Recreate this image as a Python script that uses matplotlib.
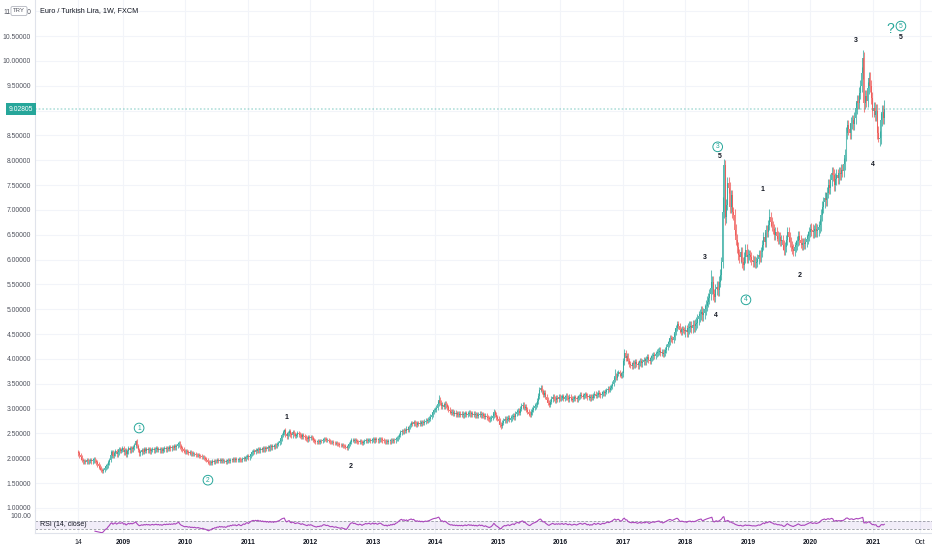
import datetime as dt
import numpy as np
import pandas as pd
import matplotlib
matplotlib.use("Agg")
import matplotlib.pyplot as plt
from matplotlib.transforms import blended_transform_factory

# ---------------- data: weekly closes, EUR/TRY ----------------
closes_2008 = [2.10, 2.06, 2.02, 1.97, 1.94, 1.95, 1.93, 1.96, 1.94, 1.95,
               1.97, 1.94, 1.96, 1.98, 1.95, 1.92, 1.88, 1.84, 1.80, 1.77,
               1.75, 1.77, 1.81, 1.84, 1.86, 1.92, 1.97, 2.06, 2.12, 2.05,
               2.10, 2.15, 2.08, 2.12, 2.18, 2.15, 2.17, 2.20]
closes_2009 = [2.12, 2.16, 2.08, 2.14, 2.20, 2.16, 2.21, 2.18, 2.22, 2.26,
               2.34, 2.25, 2.17, 2.10, 2.12, 2.16, 2.13, 2.18, 2.15, 2.19,
               2.16, 2.18, 2.14, 2.17, 2.19, 2.16, 2.18, 2.20, 2.17, 2.19,
               2.16, 2.18, 2.15, 2.18, 2.20, 2.18, 2.21, 2.19, 2.22, 2.20,
               2.22, 2.21, 2.24, 2.22, 2.25, 2.28, 2.30, 2.24, 2.20, 2.18,
               2.15, 2.13]
closes_2010 = [2.14, 2.13, 2.11, 2.12, 2.09, 2.10, 2.08, 2.09, 2.07, 2.06,
               2.07, 2.05, 2.04, 2.02, 2.03, 2.00, 1.99, 1.96, 1.93, 1.90,
               1.92, 1.91, 1.94, 1.93, 1.95, 1.94, 1.96, 1.95, 1.97, 1.95,
               1.96, 1.94, 1.95, 1.93, 1.94, 1.96, 1.95, 1.97, 1.96, 1.98,
               1.97, 1.98, 1.96, 1.97, 1.99, 1.97, 1.96, 1.98, 2.00, 1.99,
               2.02, 2.04]
closes_2011 = [2.02, 2.05, 2.09, 2.12, 2.14, 2.13, 2.16, 2.15, 2.18, 2.16,
               2.19, 2.17, 2.20, 2.18, 2.21, 2.19, 2.22, 2.20, 2.24, 2.22,
               2.25, 2.23, 2.27, 2.26, 2.29, 2.31, 2.34, 2.40, 2.47, 2.52,
               2.56, 2.48, 2.44, 2.50, 2.55, 2.48, 2.46, 2.52, 2.49, 2.45,
               2.47, 2.50, 2.48, 2.46, 2.43, 2.47, 2.44, 2.42, 2.40, 2.38,
               2.42, 2.40]
closes_2012 = [2.42, 2.40, 2.37, 2.35, 2.33, 2.32, 2.34, 2.33, 2.35, 2.34,
               2.37, 2.39, 2.38, 2.36, 2.37, 2.35, 2.33, 2.32, 2.33, 2.31,
               2.30, 2.31, 2.29, 2.28, 2.27, 2.26, 2.27, 2.25, 2.24, 2.22,
               2.21, 2.24, 2.28, 2.33, 2.36, 2.37, 2.35, 2.36, 2.34, 2.33,
               2.32, 2.34, 2.33, 2.31, 2.33, 2.34, 2.36, 2.35, 2.36, 2.37,
               2.35, 2.36, 2.38]
closes_2013 = [2.36, 2.38, 2.37, 2.36, 2.38, 2.39, 2.38, 2.36, 2.35, 2.34,
               2.35, 2.33, 2.35, 2.34, 2.36, 2.35, 2.37, 2.36, 2.39, 2.40,
               2.43, 2.47, 2.52, 2.55, 2.53, 2.57, 2.55, 2.60, 2.58, 2.63,
               2.67, 2.71, 2.69, 2.73, 2.70, 2.68, 2.71, 2.69, 2.72, 2.70,
               2.73, 2.71, 2.74, 2.76, 2.75, 2.78, 2.80, 2.84, 2.88, 2.93,
               2.97, 2.99]
closes_2014 = [3.02, 3.10, 3.18, 3.12, 3.05, 3.08, 3.04, 3.10, 3.07, 3.03,
               2.98, 2.95, 2.92, 2.94, 2.90, 2.92, 2.89, 2.91, 2.88, 2.90,
               2.88, 2.90, 2.87, 2.89, 2.91, 2.88, 2.90, 2.92, 2.89, 2.91,
               2.88, 2.90, 2.87, 2.89, 2.86, 2.88, 2.90, 2.87, 2.89, 2.86,
               2.84, 2.86, 2.83, 2.81, 2.79, 2.80, 2.82, 2.86, 2.93, 2.88,
               2.83, 2.80]
closes_2015 = [2.75, 2.68, 2.66, 2.72, 2.76, 2.79, 2.77, 2.80, 2.82, 2.78,
               2.81, 2.84, 2.86, 2.83, 2.90, 2.93, 2.95, 2.92, 3.00, 3.05,
               3.08, 3.02, 3.04, 2.98, 2.94, 2.90, 2.88, 2.93, 2.98, 3.02,
               3.05, 3.08, 3.15, 3.25, 3.38, 3.42, 3.35, 3.28, 3.32, 3.24,
               3.18, 3.12, 3.08, 3.14, 3.19, 3.24, 3.20, 3.17, 3.22, 3.19,
               3.23, 3.20]
closes_2016 = [3.22, 3.25, 3.20, 3.23, 3.26, 3.22, 3.19, 3.24, 3.21, 3.18,
               3.20, 3.23, 3.21, 3.19, 3.22, 3.25, 3.28, 3.26, 3.24, 3.27,
               3.29, 3.26, 3.23, 3.25, 3.21, 3.24, 3.22, 3.27, 3.30, 3.26,
               3.28, 3.32, 3.29, 3.27, 3.30, 3.33, 3.31, 3.34, 3.37, 3.40,
               3.38, 3.42, 3.45, 3.50, 3.58, 3.66, 3.62, 3.70, 3.73, 3.69,
               3.66, 3.71]
closes_2017 = [3.95, 4.12, 4.02, 4.05, 3.96, 3.90, 3.88, 3.86, 3.92, 3.89,
               3.93, 3.90, 3.87, 3.92, 3.95, 3.91, 3.94, 3.97, 3.95, 4.00,
               4.04, 3.98, 3.96, 4.02, 4.05, 4.08, 4.06, 4.10, 4.13, 4.15,
               4.17, 4.12, 4.14, 4.10, 4.13, 4.18, 4.24, 4.30, 4.35, 4.42,
               4.40, 4.38, 4.45, 4.55, 4.62, 4.70, 4.66, 4.58, 4.55, 4.60,
               4.58, 4.56]
closes_2018 = [4.58, 4.55, 4.62, 4.65, 4.66, 4.63, 4.68, 4.66, 4.70, 4.73,
               4.80, 4.86, 4.90, 4.95, 4.88, 4.92, 5.00, 5.07, 5.15, 5.22,
               5.30, 5.42, 5.55, 5.30, 5.25, 5.40, 5.45, 5.38, 5.55, 5.70,
               5.95, 6.95, 7.90, 6.85, 7.10, 7.55, 7.45, 7.05, 7.30, 6.95,
               6.90, 6.60, 6.40, 6.25, 6.10, 6.05, 6.15, 5.95, 5.90, 6.05,
               6.20, 6.05, 6.10]
closes_2019 = [6.10, 6.05, 6.00, 5.95, 5.98, 5.93, 5.95, 6.02, 6.10, 6.05,
               6.15, 6.30, 6.45, 6.35, 6.60, 6.55, 6.70, 6.85, 6.75, 6.68,
               6.62, 6.50, 6.55, 6.48, 6.42, 6.45, 6.38, 6.40, 6.30, 6.20,
               6.25, 6.40, 6.55, 6.45, 6.35, 6.28, 6.22, 6.18, 6.25, 6.30,
               6.38, 6.48, 6.40, 6.33, 6.30, 6.34, 6.31, 6.36, 6.42, 6.48,
               6.55, 6.62]
closes_2020 = [6.60, 6.55, 6.58, 6.62, 6.57, 6.60, 6.65, 6.70, 6.90, 7.05,
               7.15, 7.25, 7.20, 7.35, 7.50, 7.45, 7.60, 7.75, 7.70, 7.50,
               7.62, 7.70, 7.65, 7.75, 7.72, 7.80, 7.78, 7.92, 8.10, 8.55,
               8.70, 8.62, 8.55, 8.75, 8.80, 8.72, 8.85, 9.05, 9.20, 9.15,
               9.35, 9.50, 9.75, 10.05, 9.15, 9.30, 9.20, 9.45, 9.65, 9.50,
               9.25, 9.00]
closes_2021 = [9.05, 8.92, 9.00, 8.55, 8.42, 8.45, 8.82, 8.98, 8.85, 9.02805]

yearly_closes = {2008: closes_2008, 2009: closes_2009, 2010: closes_2010,
                 2011: closes_2011, 2012: closes_2012, 2013: closes_2013,
                 2014: closes_2014, 2015: closes_2015, 2016: closes_2016,
                 2017: closes_2017, 2018: closes_2018, 2019: closes_2019,
                 2020: closes_2020, 2021: closes_2021}
first_open = 2.12

# typical weekly wick length per year (price units, read from bar thickness)
wick_by_year = {2008: 0.045, 2009: 0.045, 2010: 0.04, 2011: 0.045, 2012: 0.04,
                2013: 0.045, 2014: 0.05, 2015: 0.055, 2016: 0.05, 2017: 0.065,
                2018: 0.11, 2019: 0.1, 2020: 0.12, 2021: 0.13}
# notable spikes: (year, week index in year, high, low)
spikes = [(2008, 27, 2.16, None), (2009, 10, 2.37, None), (2010, 19, None, 1.86),
          (2011, 30, 2.60, None), (2014, 2, 3.27, None), (2014, 48, 2.99, None),
          (2015, 2, None, 2.60), (2015, 35, 3.47, None), (2016, 45, 3.80, None),
          (2017, 1, 4.20, None), (2018, 21, 5.80, None), (2018, 31, 7.25, None),
          (2018, 32, 8.02, None), (2018, 33, 8.00, 6.70), (2019, 17, 7.02, None),
          (2020, 43, 10.22, None), (2020, 44, None, 8.98), (2021, 4, None, 8.36),
          (2021, 9, 9.22, None)]

time_ticks = ["14", "2009", "2010", "2011", "2012", "2013", "2014", "2015",
              "2016", "2017", "2018", "2019", "2020", "2021", "Oct"]

# wave annotations: (label, date, price, kind)
wave_labels = [("1", "2009-04-05", 2.61, "c"), ("2", "2010-05-12", 1.56, "c"),
               ("1", "2011-08-15", 2.83, "b"), ("2", "2012-08-24", 1.83, "b"),
               ("3", "2018-07-08", 8.27, "c"), ("5", "2018-07-20", 8.08, "b"),
               ("3", "2018-04-24", 6.05, "b"), ("4", "2018-06-28", 4.87, "b"),
               ("4", "2018-12-20", 5.19, "c"), ("1", "2019-03-28", 7.42, "b"),
               ("2", "2019-10-31", 5.67, "b"), ("3", "2020-09-23", 10.42, "b"),
               ("4", "2020-12-31", 7.92, "b"), ("?", "2021-04-10", 10.64, "q"),
               ("5", "2021-06-13", 10.70, "c"), ("5", "2021-06-13", 10.48, "b")]


# ---------------- helpers ----------------
def frac_year(d):
    d = pd.Timestamp(d)
    start = pd.Timestamp(d.year, 1, 1)
    end = pd.Timestamp(d.year + 1, 1, 1)
    return d.year + (d - start).days / (end - start).days


def first_monday(year):
    d = dt.date(year, 1, 1)
    while d.weekday() != 0:
        d += dt.timedelta(days=1)
    return d


dates, closes, years_of, idx_in_year = [], [], [], []
for yr, vals in yearly_closes.items():
    start = dt.date(2008, 4, 14) if yr == 2008 else first_monday(yr)
    for k, v in enumerate(vals):
        dates.append(start + dt.timedelta(days=7 * k))
        closes.append(v)
        years_of.append(yr)
        idx_in_year.append(k)

closes = np.array(closes)
opens = np.concatenate([[first_open], closes[:-1]])
xs = np.array([frac_year(d) for d in dates])
wk = np.array([wick_by_year[y] for y in years_of])
highs = np.maximum(opens, closes) + wk
lows = np.minimum(opens, closes) - wk
key = {(y, k): i for i, (y, k) in enumerate(zip(years_of, idx_in_year))}
for (y, k, h, l) in spikes:
    i = key.get((y, k))
    if i is None:
        continue
    if h is not None:
        highs[i] = max(h, max(opens[i], closes[i]))
    if l is not None:
        lows[i] = min(l, min(opens[i], closes[i]))

# RSI(14) with Wilder smoothing
s = pd.Series(closes)
d = s.diff()
up = d.clip(lower=0).ewm(alpha=1 / 14, adjust=False).mean()
dn = (-d.clip(upper=0)).ewm(alpha=1 / 14, adjust=False).mean()
rsi = (100 - 100 / (1 + up / dn)).to_numpy()
rsi[:14] = np.nan

# ---------------- figure ----------------
FONT = ["Liberation Sans", "DejaVu Sans"]
plt.rcParams["font.family"] = FONT
UP, DN = "#26a69a", "#ef5350"
TXT = "#131722"
GRID = "#f2f4f9"

W, H = 932, 550
fig = plt.figure(figsize=(W / 100, H / 100), dpi=100)
fig.patch.set_facecolor("white")

L = 35
ax = fig.add_axes([L / W, 1 - 511 / H, (W - L) / W, 511 / H])
ax2 = fig.add_axes([L / W, 1 - 533 / H, (W - L) / W, 22 / H], sharex=ax)

# x mapping: 2009 at px 123, 62.5 px per year
x_left = 2009 + (L - 123) / 62.5
x_right = 2009 + (W - 123) / 62.5
ax.set_xlim(x_left, x_right)

# y mapping: 1.0 at px 508, 49.68 px per unit
ppu = 49.68
ax.set_ylim(1.0 - 3 / ppu, 1.0 + 508 / ppu)

# candles
cols = np.where(closes >= opens, UP, DN)
ax.vlines(xs, lows, highs, colors=cols, linewidth=0.75, alpha=0.7, zorder=3)
body_h = np.maximum(np.abs(closes - opens), 0.008)
ax.bar(xs, body_h, bottom=np.minimum(opens, closes), width=0.8 * 7 / 365.25,
       color=cols, linewidth=0, alpha=0.75, zorder=4)

# grid / axis
yt = np.arange(1.0, 11.01, 0.5)
last = closes[-1]
ax.set_yticks(yt)
ax.set_yticklabels(["" if abs(v - 9.0) < 1e-9 else f"{v:.5f}" for v in yt])
ax.tick_params(axis="y", length=0, pad=3, labelsize=4.9, labelcolor="#50535e")
tick_x = [frac_year(dates[0])] + [float(y) for y in range(2009, 2022)] + [frac_year("2021-10-01")]
for tx in tick_x:
    ax.axvline(tx, color=GRID, lw=0.8, zorder=0)
    ax2.axvline(tx, color=GRID, lw=0.8, zorder=0)
for v in yt:
    ax.axhline(v, color=GRID, lw=0.8, zorder=0)
ax.tick_params(axis="x", bottom=False, labelbottom=False)
for sp in ["top", "right"]:
    ax.spines[sp].set_visible(False)
ax.spines["left"].set_color("#e0e3eb")
ax.spines["bottom"].set_color("#e0e3eb")
ax.spines["left"].set_linewidth(0.8)
ax.spines["bottom"].set_linewidth(0.8)

# last price line + label
ax.axhline(last, color=UP, lw=1.2, ls=(0, (1, 1.2)), alpha=0.35, zorder=2)
btr = blended_transform_factory(ax.transAxes, ax.transData)
ax.text(-0.002, last, f"{last:.5f}", transform=btr, ha="right", va="center",
        fontsize=4.9, color="white", clip_on=False, zorder=10,
        bbox=dict(boxstyle="square,pad=0.35", facecolor=UP, edgecolor="none"))

# title + TRY badge
fig.text(40 / W, 1 - 11 / H, "Euro / Turkish Lira, 1W, FXCM", fontsize=5.2,
         color=TXT, ha="left", va="center")
fig.text(19 / W, 1 - 11 / H, "TRY", fontsize=4.3, color="#50535e", ha="center", va="center",
         bbox=dict(boxstyle="round,pad=0.35,rounding_size=0.3", facecolor="white",
                   edgecolor="#b2b5be", linewidth=0.6), zorder=20)

# wave labels
for lab, dstr, p, kind in wave_labels:
    x = frac_year(dstr)
    if kind == "b":
        ax.text(x, p, lab, fontsize=5.0, fontweight="bold", color=TXT,
                ha="center", va="center", zorder=6)
    elif kind == "c":
        ax.text(x, p, lab, fontsize=4.8, color=UP, ha="center", va="center", zorder=6,
                bbox=dict(boxstyle="circle,pad=0.2", facecolor="white",
                          edgecolor=UP, linewidth=0.7))
    else:
        ax.text(x, p, lab, fontsize=10, color=UP, ha="center", va="center", zorder=6)

# ---------------- RSI pane ----------------
ax2.set_ylim(10, 120)
ax2.axhspan(30, 70, color="#7e57c2", alpha=0.1, lw=0, zorder=1)
ax2.axhline(70, color="#9598a1", lw=0.6, ls=(0, (3, 2)), zorder=2)
ax2.axhline(30, color="#9598a1", lw=0.6, ls=(0, (3, 2)), zorder=2)
ax2.plot(xs, rsi, color="#ab47bc", lw=0.8, zorder=3)
ax2.set_yticks([100])
ax2.set_yticklabels(["100.00"])
ax2.tick_params(axis="y", length=0, pad=3, labelsize=4.9, labelcolor="#50535e")
for sp in ["top", "right"]:
    ax2.spines[sp].set_visible(False)
ax2.spines["left"].set_color("#e0e3eb")
ax2.spines["bottom"].set_color("#e0e3eb")
ax2.spines["left"].set_linewidth(0.8)
ax2.spines["bottom"].set_linewidth(0.8)
ax2.text(x_left + 0.08, 50, "RSI (14, close)", fontsize=5.0, color=TXT,
         ha="left", va="center", zorder=5)

ax2.set_xticks(tick_x)
ax2.set_xticklabels(time_ticks)
ax2.tick_params(axis="x", length=0, pad=4, labelsize=4.9, labelcolor=TXT)
for t in ax2.get_xticklabels():
    if t.get_text() not in ("14", "Oct"):
        t.set_fontweight("bold")
ax2.set_xlim(x_left, x_right)

fig.savefig("out.png", dpi=100)
